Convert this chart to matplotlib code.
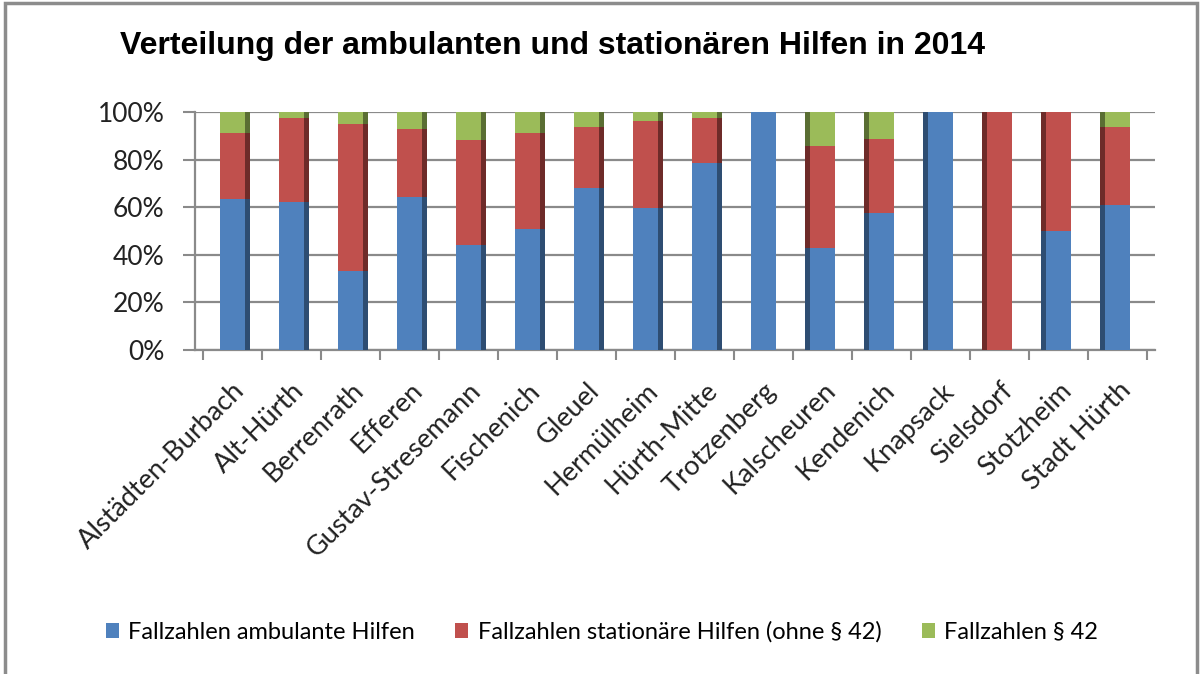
import numpy as np
import matplotlib
matplotlib.use("Agg")
from matplotlib import pyplot as plt
from matplotlib.patches import Rectangle

# Anteile je Stadtteil
stadtteile = ["Alstädten-Burbach", "Alt-Hürth", "Berrenrath", "Efferen",
              "Gustav-Stresemann", "Fischenich", "Gleuel", "Hermülheim",
              "Hürth-Mitte", "Trotzenberg", "Kalscheuren", "Kendenich",
              "Knapsack", "Sielsdorf", "Stotzheim", "Stadt Hürth"]
ambulant = [63.6, 62.0, 33.1, 64.4, 44.0, 51.0, 67.9, 59.7,
            78.6, 100.0, 42.7, 57.6, 100.0, 0.0, 50.0, 60.9]
stationaer = [27.5, 35.3, 61.7, 28.6, 44.2, 40.0, 25.9, 36.4,
              18.9, 0.0, 43.1, 31.2, 0.0, 100.0, 50.0, 32.9]
par42 = [8.9, 2.7, 5.2, 7.0, 11.8, 9.0, 6.2, 3.9,
         2.5, 0.0, 14.2, 11.2, 0.0, 0.0, 0.0, 6.2]

serien = ["Fallzahlen ambulante Hilfen",
          "Fallzahlen stationäre Hilfen (ohne § 42)",
          "Fallzahlen § 42"]
farben = ["#4F81BD", "#C0504D", "#9BBB59"]
dunkel = ["#2E4D72", "#6E2B29", "#5A6E33"]

W, H = 1202, 674
fig = plt.figure(figsize=(W / 100, H / 100), dpi=100)
fig.patches.append(Rectangle((0.004, -0.01), 0.992, 1.006, transform=fig.transFigure,
                             fill=False, edgecolor="#8c8c8c", linewidth=2.5))

ax = fig.add_axes([195 / W, 1 - 350 / H, 960 / W, 238 / H])

x = np.arange(len(stadtteile))
breite = 0.42
seite = 0.09
werte = [np.array(ambulant), np.array(stationaer), np.array(par42)]
unten = np.zeros(len(x))
for i, v in enumerate(werte):
    anteil = v / 100.0
    ax.bar(x, anteil, breite, bottom=unten, color=farben[i], label=serien[i],
           zorder=3, linewidth=0)
    # Seitenflaechen fuer den 3D-Eindruck
    links = x < 9
    rechts = x > 9
    ax.bar(x[links] + breite / 2 + seite / 2, anteil[links], seite,
           bottom=unten[links], color=dunkel[i], zorder=3, linewidth=0)
    ax.bar(x[rechts] - breite / 2 - seite / 2, anteil[rechts], seite,
           bottom=unten[rechts], color=dunkel[i], zorder=3, linewidth=0)
    unten = unten + anteil

ax.set_xlim(-0.63, len(x) - 0.37)
ax.set_ylim(0, 1)
yt = np.arange(0, 1.01, 0.2)
ax.set_yticks(yt)
ax.set_yticklabels([f"{int(round(t * 100))}%" for t in yt],
                   fontsize=19, family="Lato", color="#222222")
ax.yaxis.grid(True, color="#8a8a8a", linewidth=1.6, zorder=0)
ax.tick_params(axis="y", length=9, width=1.5, color="#8a8a8a", pad=13)

ax.set_xticks(x)
ax.set_xticklabels(stadtteile, rotation=45, ha="right", rotation_mode="anchor",
                   fontsize=19.5, family="Lato", color="#222222")
ax.tick_params(axis="x", length=0, pad=20)
ax.set_xticks(np.arange(-0.5, len(x) - 0.4, 1.0), minor=True)
ax.tick_params(axis="x", which="minor", length=7, width=1.5, color="#8a8a8a")

for s in ["top", "right"]:
    ax.spines[s].set_visible(False)
ax.spines["left"].set_color("#8a8a8a")
ax.spines["left"].set_linewidth(1.6)
ax.spines["bottom"].set_color("#8a8a8a")
ax.spines["bottom"].set_linewidth(1.6)

fig.text(120 / W, 1 - 46 / H, "Verteilung der ambulanten und stationären Hilfen in 2014",
         fontsize=23, fontweight="bold", family="Liberation Sans", va="center", ha="left")

handles, labels = ax.get_legend_handles_labels()
fig.legend(handles, labels, loc="center", bbox_to_anchor=(602 / W, 1 - 632 / H),
           ncol=3, frameon=False, prop={"family": "Lato", "size": 17},
           handlelength=0.55, handleheight=0.55, columnspacing=1.7, handletextpad=0.4)

fig.savefig("out.png", dpi=100)
